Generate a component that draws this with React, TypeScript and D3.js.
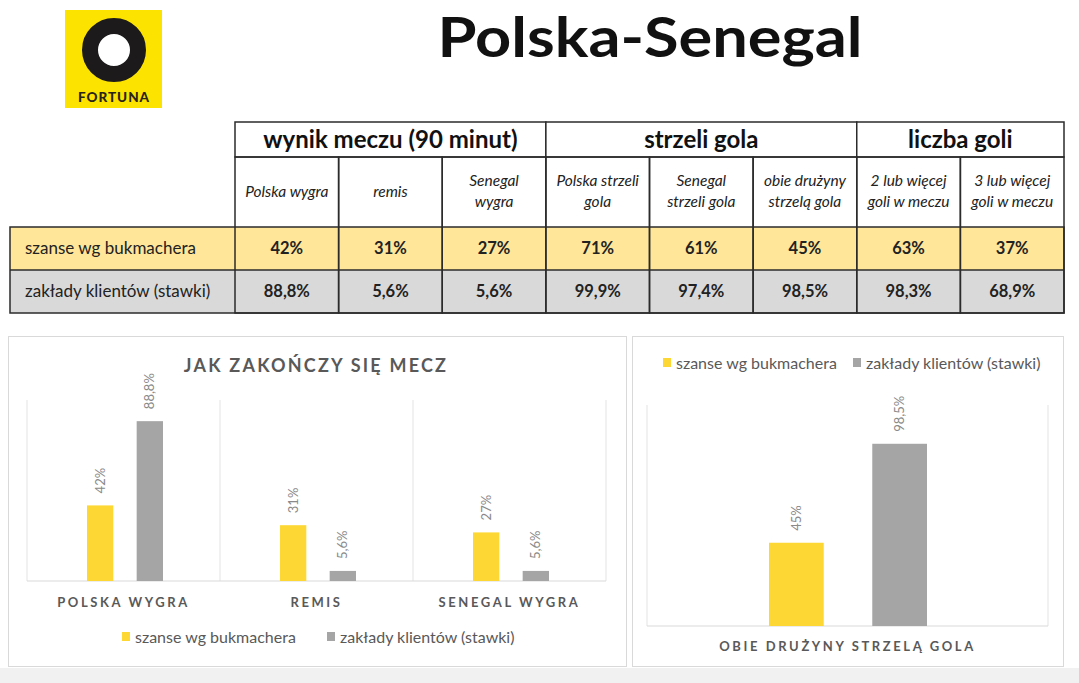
import React from 'react';
import * as d3 from 'd3';

const groupLabels = ['wynik meczu (90 minut)', 'strzeli gola', 'liczba goli'];
const groupSpans = [3, 3, 2];
const columns = [
  'Polska wygra', 'remis', 'Senegal\nwygra', 'Polska strzeli\ngola', 'Senegal\nstrzeli gola',
  'obie drużyny\nstrzelą gola', '2 lub więcej\ngoli w meczu', '3 lub więcej\ngoli w meczu',
];
const rowLabels = ['szanse wg bukmachera', 'zakłady klientów (stawki)'];
const bookmaker = [42, 31, 27, 71, 61, 45, 63, 37];
const clients = [88.8, 5.6, 5.6, 99.9, 97.4, 98.5, 98.3, 68.9];

const seriesNames = ['szanse wg bukmachera', 'zakłady klientów (stawki)'];
const outcomeCategories = ['POLSKA WYGRA', 'REMIS', 'SENEGAL WYGRA'];
const outcomeBookmaker = [42, 31, 27];
const outcomeClients = [88.8, 5.6, 5.6];
const bothCategories = ['OBIE DRUŻYNY STRZELĄ GOLA'];
const bothBookmaker = [45];
const bothClients = [98.5];

const YELLOW = '#fdd835';
const GRAY = '#a5a5a5';
const FONT = "Lato, 'Noto Sans', sans-serif";
const fmtInt = (v: number) => `${v}%`;
const fmtDec = (v: number) => `${v.toFixed(1).replace('.', ',')}%`;

function Table() {
  const x = d3.scaleBand<number>().domain(d3.range(columns.length)).range([235, 1064]);
  const bw = x.bandwidth();
  const rows = [122, 157, 227, 270, 313];
  const line = '#2b2b2b';
  let start = 0;
  const groups = groupLabels.map((g, i) => {
    const s = start;
    start += groupSpans[i];
    return { label: g, x0: x(s)!, x1: x(s + groupSpans[i] - 1)! + bw };
  });
  return (
    <g fontFamily={FONT}>
      <rect x={10} y={rows[2]} width={1054} height={rows[3] - rows[2]} fill="#ffe699" />
      <rect x={10} y={rows[3]} width={1054} height={rows[4] - rows[3]} fill="#d9d9d9" />
      {groups.map((g, i) => (
        <g key={i}>
          <rect x={g.x0} y={rows[0]} width={g.x1 - g.x0} height={rows[1] - rows[0]} fill="#fff" stroke={line} strokeWidth={1.5} />
          <text x={(g.x0 + g.x1) / 2} y={148} textAnchor="middle" fontSize={24} fontWeight={700} fill="#111">{g.label}</text>
        </g>
      ))}
      {columns.map((c, i) => {
        const lines = c.split('\n');
        const cx = x(i)! + bw / 2;
        return (
          <g key={i}>
            <rect x={x(i)} y={rows[1]} width={bw} height={rows[4] - rows[1]} fill="none" stroke={line} strokeWidth={1.5} />
            {lines.map((l, j) => (
              <text key={j} x={cx} y={lines.length === 1 ? 197 : 186 + j * 21} textAnchor="middle" fontSize={15.5} fontStyle="italic" fill="#222">{l}</text>
            ))}
            <text x={cx} y={254} textAnchor="middle" fontSize={16.5} fontWeight={700} fill="#222">{fmtInt(bookmaker[i])}</text>
            <text x={cx} y={297} textAnchor="middle" fontSize={16.5} fontWeight={700} fill="#222">{fmtDec(clients[i])}</text>
          </g>
        );
      })}
      <line x1={10} x2={1064} y1={rows[3]} y2={rows[3]} stroke={line} strokeWidth={1.5} />
      <rect x={10} y={rows[2]} width={1054} height={rows[4] - rows[2]} fill="none" stroke={line} strokeWidth={1.5} />
      {rowLabels.map((r, i) => (
        <text key={i} x={25} y={[254, 297][i]} fontSize={17} fill="#222">{r}</text>
      ))}
    </g>
  );
}

function Legend({ x, y, gap }: { x: number; y: number; gap: number }) {
  return (
    <g fontFamily={FONT} fontSize={16} fill="#595959">
      {seriesNames.map((s, i) => (
        <g key={i} transform={`translate(${x + i * gap},${y})`}>
          <rect x={0} y={-5} width={8} height={9} fill={i === 0 ? YELLOW : GRAY} />
          <text x={13} y={5.5}>{s}</text>
        </g>
      ))}
    </g>
  );
}

function Bars({ cats, a, b, x0, x1, y0, unit, inner, labelY, grid }: {
  cats: string[]; a: number[]; b: number[]; x0: number; x1: number; y0: number; unit: number;
  inner: [number, number]; labelY: number; grid: 'all' | 'box';
}) {
  const x = d3.scaleBand().domain(cats).range([x0, x1]);
  const y = d3.scaleLinear().domain([0, 100]).range([y0, y0 - unit]);
  const xi = d3.scaleBand<number>().domain([0, 1]).range(inner).paddingInner(0.47);
  const top = y0 - (grid === 'all' ? 181 : 221);
  const seps = grid === 'all' ? [x0, ...cats.map(c => x(c)! + x.bandwidth())] : [x0, x1];
  return (
    <g fontFamily={FONT}>
      {seps.map((s, i) => (
        <line key={i} x1={s} x2={s} y1={top} y2={y0} stroke="#e3e3e3" strokeWidth={1} />
      ))}
      <line x1={x0} x2={x1} y1={y0} y2={y0} stroke="#d9d9d9" strokeWidth={1.2} />
      {cats.map((c, i) => (
        <g key={c} transform={`translate(${x(c)},0)`}>
          {[a[i], b[i]].map((v, k) => {
            const bx = xi(k)!;
            const bt = y(v);
            const label = k === 0 ? fmtInt(v) : fmtDec(v);
            return (
              <g key={k}>
                <rect x={bx} y={bt} width={xi.bandwidth()} height={y0 - bt} fill={k === 0 ? YELLOW : GRAY} />
                <text transform={`translate(${bx + xi.bandwidth() / 2 + 4.5},${bt - 12}) rotate(-90)`} fontSize={13} fill="#8a8a8a">{label}</text>
              </g>
            );
          })}
          <text x={x.bandwidth() / 2} y={labelY} textAnchor="middle" fontSize={13} fontWeight={700} fill="#595959" letterSpacing={2.6}>{c}</text>
        </g>
      ))}
    </g>
  );
}

export default function App() {
  return (
    <svg width={1079} height={683} viewBox="0 0 1079 683" style={{ position: 'absolute', left: 0, top: 0, display: 'block' }}>
      <rect width={1079} height={683} fill="#fff" />
      <rect x={0} y={668} width={1079} height={15} fill="#f1f1f1" />
      {/* logo */}
      <rect x={65} y={10} width={97} height={98} fill="#fce300" />
      <circle cx={114} cy={50} r={24} fill="#fff" stroke="#1c1a1a" strokeWidth={16} />
      <text x={114} y={102} textAnchor="middle" fontFamily={FONT} fontSize={13.5} fontWeight={900} fill="#2a2418" letterSpacing={1}>FORTUNA</text>
      <text x={650} y={57} textAnchor="middle" fontFamily={FONT} fontSize={56} fontWeight={700} fill="#111" textLength={425} lengthAdjust="spacingAndGlyphs">Polska-Senegal</text>
      <Table />
      {/* left panel */}
      <rect x={8.5} y={336.5} width={618} height={330} fill="#fff" stroke="#d9d9d9" />
      <text x={316} y={372} textAnchor="middle" fontFamily={FONT} fontSize={18} fontWeight={700} fill="#595959" letterSpacing={2.2}>JAK ZAKOŃCZY SIĘ MECZ</text>
      <Bars cats={outcomeCategories} a={outcomeBookmaker} b={outcomeClients} x0={27} x1={606} y0={581} unit={180} inner={[60, 136]} labelY={607} grid="all" />
      <Legend x={122} y={637} gap={205} />
      {/* right panel */}
      <rect x={632.5} y={336.5} width={431} height={330} fill="#fff" stroke="#d9d9d9" />
      <Legend x={663} y={363} gap={190} />
      <Bars cats={bothCategories} a={bothBookmaker} b={bothClients} x0={647} x1={1048} y0={626} unit={185} inner={[122, 280]} labelY={651} grid="box" />
    </svg>
  );
}
